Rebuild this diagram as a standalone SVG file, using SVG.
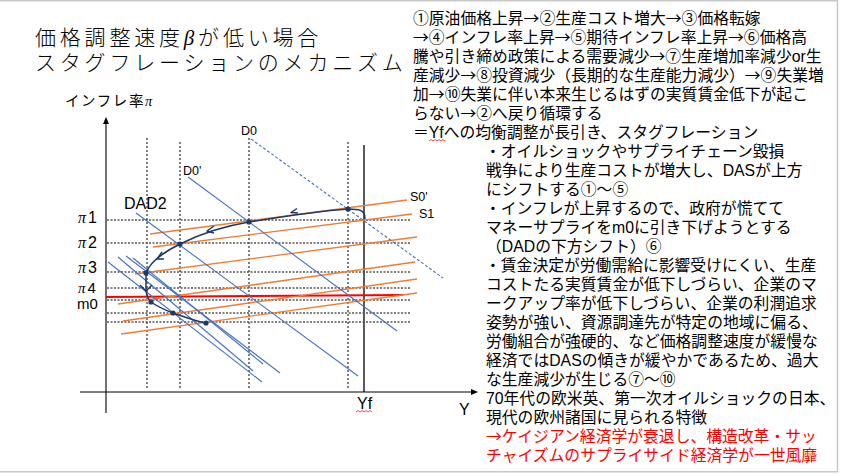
<svg xmlns="http://www.w3.org/2000/svg" width="842" height="476" viewBox="0 0 842 476">
<style>
.t{font-family:"Liberation Sans","Noto Sans CJK JP",sans-serif;fill:#000}
.body{font-size:15.8px}
.cj{font-family:"Noto Sans CJK JP",sans-serif}
.red{fill:#ff0000}
.lbl{font-family:"Liberation Sans","Noto Sans CJK JP",sans-serif;fill:#000}
.pi{font-family:"Liberation Serif",serif;font-style:italic}
.dotv{stroke:#000;stroke-width:1;stroke-dasharray:2 2;fill:none}
.doth{stroke:#555;stroke-width:1.6;stroke-dasharray:2 1.5;fill:none}
.das{stroke:#ED7D31;stroke-width:1.3;fill:none}
.dad{stroke:#4472C4;stroke-width:1.1;fill:none}
.cur{stroke:#1F3864;stroke-width:1.5;fill:none;stroke-linejoin:round}
.dot{fill:#1F3864}
.sq{stroke:#ff3030;stroke-width:0.9;fill:none}
</style>
<rect x="-2" y="0.75" width="839.5" height="471" fill="#ffffff" stroke="#c8c8c8" stroke-width="1.5"/>

<g id="title" class="t" font-size="21" letter-spacing="3.8" font-weight="300">
<text x="35" y="45">価格調整速度<tspan font-family="Liberation Serif,serif" font-style="italic">β</tspan>が低い場合</text>
<text x="35" y="70">スタグフレーションのメカニズム</text>
</g>

<g id="explanation" class="t body">
<text x="413" y="24">①原油価格上昇<tspan class="cj">→</tspan>②生産コスト増大<tspan class="cj">→</tspan>③価格転嫁</text>
<text x="413" y="43"><tspan class="cj">→</tspan>④インフレ率上昇<tspan class="cj">→</tspan>⑤期待インフレ率上昇<tspan class="cj">→</tspan>⑥価格高</text>
<text x="413" y="62">騰や引き締め政策による需要減少<tspan class="cj">→</tspan>⑦生産増加率減少or生</text>
<text x="413" y="81">産減少<tspan class="cj">→</tspan>⑧投資減少（長期的な生産能力減少）<tspan class="cj">→</tspan>⑨失業増</text>
<text x="413" y="100">加<tspan class="cj">→</tspan>⑩失業に伴い本来生じるはずの実質賃金低下が起こ</text>
<text x="413" y="119">らない<tspan class="cj">→</tspan>②へ戻り循環する</text>
<text x="413" y="138">＝Yfへの均衡調整が長引き、スタグフレーション</text>
<text x="485" y="157">・オイルショックやサプライチェーン毀損</text>
<text x="486" y="176">戦争により生産コストが増大し、DASが上方</text>
<text x="486" y="195">にシフトする①〜⑤</text>
<text x="485" y="214">・インフレが上昇するので、政府が慌てて</text>
<text x="486" y="233">マネーサプライをm0に引き下げようとする</text>
<text x="486" y="252">（DADの下方シフト）⑥</text>
<text x="485" y="271">・賃金決定が労働需給に影響受けにくい、生産</text>
<text x="486" y="290">コストたる実質賃金が低下しづらい、企業のマ</text>
<text x="486" y="309">ークアップ率が低下しづらい、企業の利潤追求</text>
<text x="486" y="328">姿勢が強い、資源調達先が特定の地域に偏る、</text>
<text x="486" y="347">労働組合が強硬的、など価格調整速度が緩慢な</text>
<text x="486" y="366">経済ではDASの傾きが緩やかであるため、過大</text>
<text x="486" y="385">な生産減少が生じる⑦〜⑩</text>
<text x="486" y="404">70年代の欧米英、第一次オイルショックの日本、</text>
<text x="486" y="423">現代の欧州諸国に見られる特徴</text>
<text x="486" y="442" class="red"><tspan class="cj">→</tspan>ケイジアン経済学が衰退し、構造改革・サッ</text>
<text x="486" y="461" class="red">チャイズムのサプライサイド経済学が一世風靡</text>
<path class="sq" d="M429 141 l2 -1.5 l2 1.5 l2 -1.5 l2 1.5 l2 -1.5 l2 1.5 l2 -1.5 l2 1.5"/>
</g>

<g id="axes">
<line x1="106" y1="123" x2="106" y2="413" stroke="#444" stroke-width="1.5"/>
<polygon points="106,117 103,124 109,124" fill="#000"/>
<line x1="80" y1="392" x2="472" y2="392" stroke="#000" stroke-width="1"/>
<polygon points="478,392 471,389 471,395" fill="#000"/>
<line x1="364" y1="145" x2="364" y2="392" stroke="#000" stroke-width="1.3"/>
</g>

<g id="axis-labels">
<text class="t" x="65" y="106" font-size="14.5" letter-spacing="1.6">インフレ率<tspan class="pi">π</tspan></text>
<text class="lbl" x="459" y="415" font-size="16">Y</text>
<text class="lbl" x="357" y="409" font-size="16">Yf</text>
<path class="sq" d="M356 412 l2 -1.5 l2 1.5 l2 -1.5 l2 1.5 l2 -1.5 l2 1.5 l2 -1.5 l2 1.5"/>
<text class="lbl" x="78" y="223" font-size="16"><tspan class="pi">π</tspan><tspan dx="2">1</tspan></text>
<text class="lbl" x="78" y="248" font-size="16"><tspan class="pi">π</tspan><tspan dx="2">2</tspan></text>
<text class="lbl" x="78" y="273" font-size="16"><tspan class="pi">π</tspan><tspan dx="2">3</tspan></text>
<text class="lbl" x="78" y="293" font-size="15"><tspan class="pi">π</tspan><tspan dx="2">4</tspan></text>
<text class="lbl red" x="77" y="309" font-size="15">m0</text>
<text class="lbl" x="241" y="135" font-size="12.5">D0</text>
<text class="lbl" x="183" y="175" font-size="12.5">D0'</text>
<text class="lbl" x="124" y="209" font-size="16">DAD2</text>
<text class="lbl" x="410" y="201" font-size="12.5">S0'</text>
<text class="lbl" x="419" y="218" font-size="12.5">S1</text>
</g>

<g id="guides">
<line class="dotv" x1="147" y1="138" x2="147" y2="388"/>
<line class="dotv" x1="180" y1="142" x2="180" y2="388"/>
<line class="dotv" x1="249" y1="138" x2="249" y2="388"/>
<line class="dotv" x1="348" y1="142" x2="348" y2="388"/>
<line class="doth" x1="107" y1="220" x2="410" y2="220"/>
<line class="doth" x1="107" y1="243" x2="410" y2="243"/>
<line class="doth" x1="107" y1="272" x2="410" y2="272"/>
<line class="doth" x1="107" y1="288" x2="410" y2="288"/>
<line class="doth" x1="107" y1="300" x2="410" y2="300"/>
<line class="doth" x1="107" y1="313" x2="410" y2="313"/>
<line class="doth" x1="107" y1="322" x2="410" y2="322"/>
<line x1="106" y1="297" x2="403" y2="295" stroke="#ff0000" stroke-width="1.8"/>
</g>

<g id="das-lines">
<line class="das" x1="150" y1="234" x2="407" y2="200"/>
<line class="das" x1="153" y1="247" x2="412" y2="214"/>
<line class="das" x1="135" y1="274" x2="417" y2="237"/>
<line class="das" x1="118" y1="304" x2="415" y2="262"/>
<line class="das" x1="123" y1="321" x2="417" y2="279"/>
<line class="das" x1="121" y1="334" x2="417" y2="293"/>
</g>

<g id="dad-lines">
<line class="dad" x1="251" y1="139" x2="443" y2="278" stroke-dasharray="3 2"/>
<line class="dad" x1="188" y1="177" x2="397" y2="331"/>
<line class="dad" x1="136" y1="213" x2="358" y2="376"/>
<line class="dad" x1="108" y1="262" x2="262" y2="382"/>
<line class="dad" x1="118" y1="257" x2="253" y2="371"/>
<line class="dad" x1="126" y1="256" x2="280" y2="373"/>
<line class="dad" x1="133" y1="258" x2="263" y2="364"/>
</g>

<g id="adjustment-path">
<path class="cur" d="M365 219 C365 213 363 210 356 209.5 L348 209 C320 211 280 217 249 222 C225 226 200 234 180 244 C162 253 150 262 146 273 L146 291 C147 297 149 300 151 302 C158 307 165 310 173 313 C185 317 195 321 206 323"/>
<polyline class="cur" points="297,208.5 291,212.5 298,213"/>
<polyline class="cur" points="214,226 207,231 214,233"/>
<polyline class="cur" points="162,252 157,259 164,259"/>
<polyline class="cur" points="140,285 146,291 152,285"/>
<circle class="dot" cx="348" cy="209" r="2.6"/>
<circle class="dot" cx="249" cy="222" r="2.6"/>
<circle class="dot" cx="180" cy="244" r="2.6"/>
<circle class="dot" cx="146" cy="273" r="2.6"/>
<circle class="dot" cx="151" cy="302" r="2.6"/>
<circle class="dot" cx="173" cy="313" r="2.6"/>
<circle class="dot" cx="206" cy="323" r="2.6"/>
</g>
</svg>
